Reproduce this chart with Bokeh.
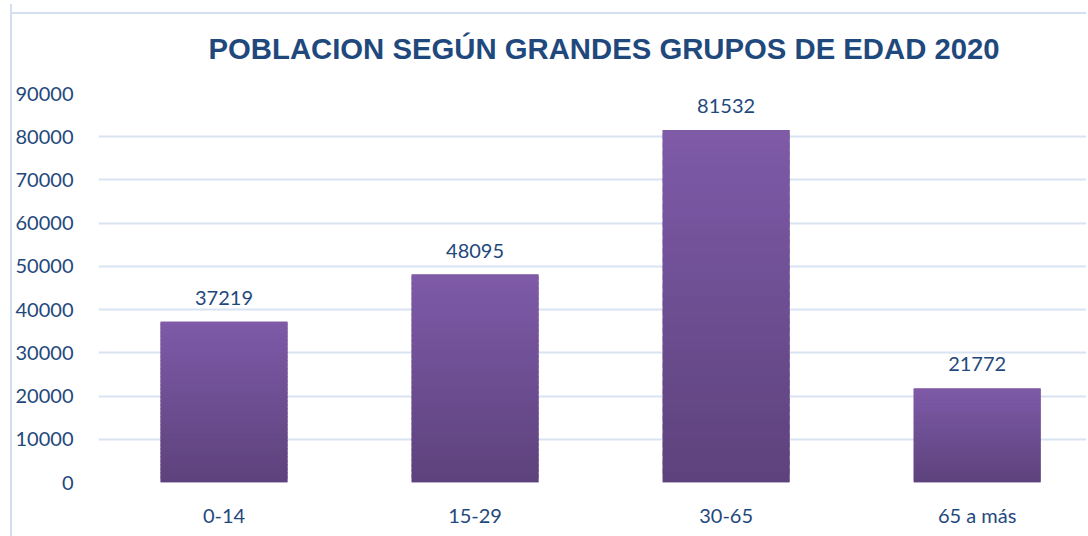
from bokeh.plotting import figure
from bokeh.models import Range1d, FixedTicker, ColumnDataSource
from bokeh.embed import file_html
from bokeh.resources import INLINE

categories = ["0-14", "15-29", "30-65", "65 a más"]
values = [37219, 48095, 81532, 21772]
y_ticks = [0, 10000, 20000, 30000, 40000, 50000, 60000, 70000, 80000, 90000]
title_text = "POBLACION SEGÚN GRANDES GRUPOS DE EDAD 2020"

BLUE = "#1f497d"
GRID = "#d9e4f3"
EDGE = "#d3dff0"

p = figure(width=1076, height=532, output_backend="svg", toolbar_location=None,
           x_range=Range1d(0, 3.9435), y_range=Range1d(0, 90000),
           min_border_left=85, min_border_right=0, min_border_top=88, min_border_bottom=54,
           title=title_text)
p.margin = (4, 0, 0, 10)
p.styles = {
    "border-left": "2px solid " + EDGE,
    "background": "linear-gradient(%s, %s) 0px 8px / 100%% 2px no-repeat, white" % (EDGE, EDGE),
}
p.outline_line_color = None
p.background_fill_color = "white"
p.border_fill_color = None

p.title.text_font = "Liberation Sans"
p.title.text_font_style = "bold"
p.title.text_font_size = "29.3px"
p.title.text_color = BLUE
p.title.align = "left"
p.title.vertical_align = "top"
p.title.offset = 110
p.title.standoff = 54

xs = [i + 0.5 for i in range(len(categories))]

# gradient bars: solid base plus overlapping colour bands
N = 40
top_c = (0x7e, 0x5a, 0xa8)
bot_c = (0x5d, 0x42, 0x7c)
p.vbar(x=xs, bottom=0, top=values, width=0.505, fill_color="#6a4b8e", line_color=None)
bx, bb, bt, bc = [], [], [], []
for x, v in zip(xs, values):
    for k in range(N):
        f = (k + 0.5) / N
        c = tuple(int(round(bot_c[j] + (top_c[j] - bot_c[j]) * f)) for j in range(3))
        bx.append(x)
        bb.append(v * k / N)
        bt.append(v * min(k + 1.6, N) / N)
        bc.append("#%02x%02x%02x" % c)
p.vbar(x=bx, bottom=bb, top=bt, width=0.505, fill_color=bc, line_color=None)

src = ColumnDataSource(dict(x=xs, y=values, t=[str(v) for v in values]))
p.text(x="x", y="y", text="t", source=src, text_align="center", text_baseline="bottom",
       y_offset=-17, text_font_size="20px", text_color=BLUE, text_font={"value": "Lato"})

p.xaxis.ticker = FixedTicker(ticks=xs)
p.xaxis.major_label_overrides = {x: c for x, c in zip(xs, categories)}
p.yaxis.ticker = FixedTicker(ticks=y_ticks)
p.yaxis.formatter.use_scientific = False

for ax in (p.xaxis, p.yaxis):
    ax.axis_line_color = None
    ax.major_tick_line_color = None
    ax.minor_tick_line_color = None
    ax.major_label_text_font = "Lato"
    ax.major_label_text_font_size = "20px"
    ax.major_label_text_color = BLUE
p.yaxis.major_label_standoff = 19
p.xaxis.major_label_standoff = 14

p.xgrid.grid_line_color = None
p.ygrid.ticker = FixedTicker(ticks=y_ticks)
p.ygrid.grid_line_color = GRID
p.ygrid.grid_line_width = 2

open("out.html", "w").write(file_html(p, INLINE))
